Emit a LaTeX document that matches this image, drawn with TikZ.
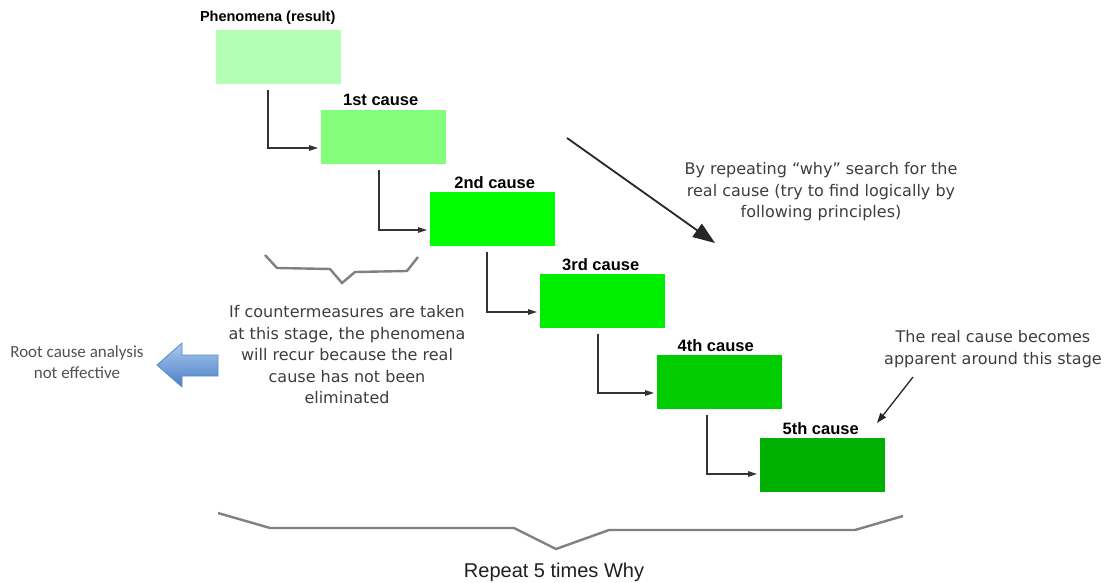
\documentclass[tikz,border=0pt]{standalone}
\usepackage{fontspec}
\setmainfont{DejaVu Sans}
\newfontfamily\labelfont{Liberation Sans}
\newfontfamily\notefont{Carlito}
\usetikzlibrary{arrows.meta,calc}

\definecolor{g0}{HTML}{B3FFB3}
\definecolor{g1}{HTML}{84FF7C}
\definecolor{g2}{HTML}{00FF00}
\definecolor{g3}{HTML}{00EE00}
\definecolor{g4}{HTML}{00CC00}
\definecolor{g5}{HTML}{00B000}
\definecolor{bluetop}{HTML}{A9C9F2}
\definecolor{bluebot}{HTML}{4A7EC4}
\definecolor{blueedge}{HTML}{5A88C8}

\begin{document}
\begin{tikzpicture}[x=1pt,y=-1pt,
  stepbox/.style={minimum width=125pt, minimum height=54pt, inner sep=0pt, anchor=north west},
  tag/.style={font=\labelfont\bfseries\fontsize{16.5}{18}\selectfont, text=black, inner sep=0pt, anchor=base},
  conn/.style={draw=black!80, line width=1.2pt, -{Triangle[length=9pt,width=5.5pt]}},
  note/.style={font=\fontsize{16}{21.5}\selectfont, text=black!76, align=center, inner sep=0pt},
  brace/.style={draw=black!50, line width=2.4pt, line join=miter},
]
\useasboundingbox (0,0) rectangle (1111,583);

% the chain of causes
\node[stepbox, fill=g0] (P) at (216,30) {};
\node[stepbox, fill=g1] (A) at (321,110) {};
\node[stepbox, fill=g2] (B) at (430,192) {};
\node[stepbox, fill=g3] (C) at (540,274) {};
\node[stepbox, fill=g4] (D) at (657,355) {};
\node[stepbox, fill=g5] (E) at (760,438) {};

\node[tag, font=\labelfont\bfseries\fontsize{14.5}{16}\selectfont] (Pl) at ($(P.north)+(-11,-8)$) {Phenomena (result)};
\node[tag] (Al) at ($(A.north)+(-3,-4)$) {1st cause};
\node[tag] (Bl) at ($(B.north)+(2,-4)$) {2nd cause};
\node[tag] (Cl) at ($(C.north)+(-2,-4)$) {3rd cause};
\node[tag] (Dl) at ($(D.north)+(-4,-4)$) {4th cause};
\node[tag] (El) at ($(E.north)+(-2,-4)$) {5th cause};

% step connectors
\draw[conn] ($(P.south west)+(52,6)$) |- ($(A.north west)+(-3,38)$);
\draw[conn] ($(A.south west)+(58,6)$) |- ($(B.north west)+(-3,38)$);
\draw[conn] ($(B.south west)+(57,6)$) |- ($(C.north west)+(-3,38)$);
\draw[conn] ($(C.south west)+(58,6)$) |- ($(D.north west)+(-3,38)$);
\draw[conn] ($(D.south west)+(50,6)$) |- ($(E.north west)+(-3,36)$);

% direction of the search
\coordinate (s0) at (567,138);
\coordinate (s1) at (715,243);
\draw[draw=black!85, line width=1.8pt, -{Triangle[length=22pt,width=16pt]}] (s0) -- (s1);
\node[note] (why) at (821,192) {By repeating “why” search for the\\real cause (try to find logically by\\following principles)};

% remark on the last stage
\node[note] (real) at (993,349) {The real cause becomes\\apparent around this stage};
\coordinate (r0) at (913,377);
\coordinate (r1) at (877,423);
\draw[draw=black!85, line width=1.3pt, -{Triangle[length=10pt,width=7pt]}] (r0) -- (r1);

% brace under the early causes
\draw[brace] (265,255) -- (277,268) -- (330,269) -- (342,283) -- (355,272) -- (407,271) -- (418,257);
\node[note] (cm) at (347,355) {If countermeasures are taken\\at this stage, the phenomena\\will recur because the real\\cause has not been\\eliminated};

% block arrow to the left
\shadedraw[top color=bluetop, bottom color=bluebot, draw=blueedge, line width=0.8pt, line join=round]
  (218,355) -- (182,355) -- (182,343) -- (157,365) -- (182,387) -- (182,376) -- (218,376) -- cycle;
\node[font=\notefont\fontsize{17}{20.5}\selectfont, text=black!68, align=center, inner sep=0pt] (rc) at (77,362) {Root cause analysis\\not effective};

% brace under the whole chain
\draw[brace] (218,513) -- (270,528) -- (514,528) -- (556,549) -- (609,530) -- (855,530) -- (903,516);
\node[font=\labelfont\fontsize{20}{24}\selectfont, text=black!88, inner sep=0pt] (rep) at (554,572) {Repeat 5 times Why};
\end{tikzpicture}
\end{document}
